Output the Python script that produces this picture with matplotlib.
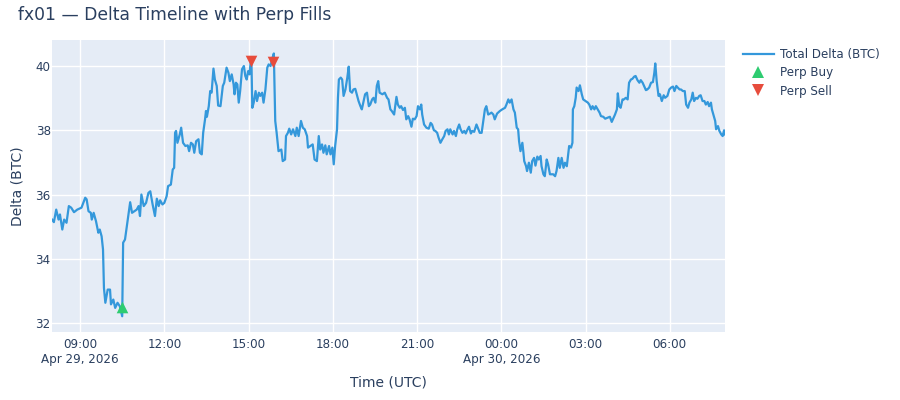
import numpy as np
import pandas as pd
import matplotlib
matplotlib.use("Agg")
import matplotlib.pyplot as plt
from matplotlib.lines import Line2D

plt.rcParams["font.family"] = ["DejaVu Sans"]

START = pd.Timestamp("2026-04-29 08:00")

# minutes after 08:00 UTC on Apr 29, and total delta (BTC)
delta_min = [
    0, 4, 9, 14, 17, 22, 26, 31, 36, 41, 47, 54, 63, 71, 74, 78, 83, 85, 89, 94,
    99, 102, 106, 109, 111, 114, 119, 124, 126, 131, 135, 140, 145, 150, 152, 156,
    159, 163, 167, 171, 176, 181, 185, 188, 191, 196, 201, 206, 210, 215, 220, 224,
    228, 231, 236, 240, 245, 248, 254, 258, 261, 263, 265, 268, 273, 276, 280, 285,
    290, 293, 297, 301, 304, 308, 313, 316, 320, 323, 327, 329, 331, 335, 338, 341,
    345, 348, 352, 355, 360, 365, 368, 373, 377, 380, 384, 388, 390, 393, 396, 399,
    402, 406, 410, 413, 416, 419, 422, 424, 426, 428, 431, 435, 438, 442, 445, 449,
    452, 456, 460, 463, 467, 470, 474, 477, 480, 484, 490, 493, 498, 500, 504, 507,
    511, 515, 520, 523, 527, 532, 536, 540, 545, 547, 552, 557, 561, 566, 570, 573,
    577, 580, 584, 587, 592, 595, 599, 602, 605, 609, 611, 613, 617, 620, 623, 627,
    631, 634, 637, 641, 644, 648, 652, 655, 659, 662, 666, 669, 673, 677, 680, 684,
    687, 691, 694, 697, 700, 706, 711, 716, 719, 723, 726, 731, 736, 739, 743, 746,
    750, 754, 757, 761, 764, 768, 771, 775, 779, 782, 786, 789, 791, 795, 800, 805,
    809, 812, 816, 819, 823, 826, 830, 834, 838, 841, 845, 848, 851, 856, 859, 863,
    866, 870, 873, 877, 881, 884, 888, 891, 895, 898, 902, 907, 911, 914, 918, 921,
    925, 928, 932, 936, 939, 943, 946, 951, 957, 962, 968, 971, 975, 978, 982, 986,
    989, 993, 996, 998, 1001, 1005, 1007, 1009, 1013, 1015, 1019, 1023, 1026, 1030,
    1033, 1037, 1040, 1044, 1046, 1050, 1053, 1057, 1060, 1064, 1068, 1071, 1075,
    1078, 1082, 1085, 1089, 1093, 1096, 1100, 1103, 1105, 1109, 1112, 1113, 1116,
    1119, 1121, 1125, 1128, 1132, 1135, 1140, 1145, 1148, 1152, 1155, 1159, 1162,
    1166, 1170, 1173, 1178, 1182, 1187, 1192, 1196, 1200, 1203, 1207, 1209, 1212,
    1215, 1219, 1222, 1226, 1230, 1233, 1237, 1240, 1244, 1247, 1251, 1255, 1258,
    1262, 1265, 1269, 1272, 1276, 1280, 1284, 1287, 1289, 1292, 1296, 1299, 1303,
    1307, 1310, 1315, 1319, 1323, 1327, 1330, 1334, 1337, 1341, 1344, 1348, 1352,
    1355, 1359, 1362, 1366, 1369, 1372, 1376, 1379, 1383, 1386, 1390, 1394, 1397,
    1401, 1404, 1408, 1410, 1414, 1417, 1419, 1423, 1426, 1430, 1433, 1436, 1438,
]
delta_btc = [
    35.22, 35.14, 35.53, 35.22, 35.38, 34.91, 35.22, 35.12, 35.64, 35.59, 35.45,
    35.53, 35.59, 35.90, 35.85, 35.48, 35.43, 35.22, 35.43, 35.17, 34.81, 34.91,
    34.70, 34.29, 33.09, 32.63, 33.04, 33.04, 32.58, 32.73, 32.47, 32.63, 32.52,
    32.21, 34.50, 34.60, 34.91, 35.33, 35.76, 35.43, 35.48, 35.53, 35.64, 35.33,
    36.00, 35.64, 35.74, 36.05, 36.10, 35.69, 35.33, 35.87, 35.64, 35.82, 35.69,
    35.74, 35.95, 36.26, 36.31, 36.78, 36.83, 37.92, 37.98, 37.61, 37.87, 38.08,
    37.61, 37.51, 37.53, 37.35, 37.61, 37.56, 37.30, 37.66, 37.72, 37.30, 37.25,
    37.92, 38.34, 38.60, 38.42, 38.75, 39.22, 39.17, 39.92, 39.58, 39.38, 38.77,
    38.75, 39.38, 39.48, 39.95, 39.79, 39.53, 39.74, 39.43, 39.12, 39.48, 39.43,
    38.86, 39.22, 39.90, 40.00, 39.69, 39.58, 39.84, 39.74, 40.05, 40.26, 38.70,
    38.86, 39.22, 38.91, 39.17, 39.07, 39.17, 38.86, 39.27, 39.95, 40.05, 40.00,
    40.20, 40.39, 38.29, 37.92, 37.35, 37.40, 37.04, 37.09, 37.82, 37.92, 38.05,
    37.87, 38.03, 37.82, 38.08, 37.82, 38.29, 38.08, 38.03, 37.82, 37.46, 37.51,
    37.56, 37.09, 37.04, 37.82, 37.40, 37.56, 37.30, 37.53, 37.25, 37.51, 37.25,
    37.46, 36.94, 37.51, 38.03, 39.01, 39.58, 39.64, 39.58, 39.07, 39.27, 39.64,
    39.98, 39.22, 39.17, 39.27, 39.29, 39.07, 38.91, 38.75, 38.65, 38.91, 39.12,
    39.17, 38.75, 38.80, 38.96, 39.01, 38.86, 39.38, 39.53, 39.17, 39.12, 39.17,
    39.01, 38.96, 38.65, 38.60, 38.49, 39.04, 38.80, 38.70, 38.75, 38.63, 38.70,
    38.34, 38.44, 38.34, 38.11, 38.36, 38.34, 38.44, 38.75, 38.65, 38.80, 38.49,
    38.18, 38.08, 38.05, 38.23, 38.18, 38.00, 37.98, 37.92, 37.77, 37.61, 37.72,
    37.82, 37.98, 38.03, 37.87, 38.03, 37.87, 37.98, 37.82, 38.03, 38.18, 38.03,
    37.92, 37.98, 37.90, 38.03, 38.11, 37.90, 37.98, 37.95, 38.18, 38.03, 37.92,
    37.92, 38.23, 38.65, 38.75, 38.49, 38.52, 38.55, 38.49, 38.34, 38.52, 38.60,
    38.65, 38.70, 38.80, 38.96, 38.86, 38.96, 38.65, 38.55, 38.08, 38.03, 37.66,
    37.35, 37.61, 37.35, 37.04, 36.88, 36.73, 36.99, 36.68, 37.04, 37.14, 36.90,
    37.18, 37.09, 37.20, 36.88, 36.63, 36.57, 37.09, 36.94, 36.63, 36.63, 36.63,
    36.57, 36.73, 37.14, 36.83, 37.14, 36.83, 36.99, 36.88, 37.25, 37.51, 37.46,
    37.61, 38.65, 38.75, 39.01, 39.33, 39.22, 39.40, 39.12, 38.96, 38.91, 38.86,
    38.80, 38.65, 38.75, 38.65, 38.75, 38.65, 38.55, 38.44, 38.42, 38.36, 38.39,
    38.42, 38.26, 38.39, 38.49, 38.65, 39.15, 38.75, 38.70, 38.96, 38.96, 39.01,
    38.96, 39.48, 39.58, 39.60, 39.67, 39.69, 39.56, 39.48, 39.56, 39.48, 39.38,
    39.25, 39.27, 39.33, 39.48, 39.50, 39.79, 40.08, 39.53, 39.07, 39.12, 38.91,
    39.09, 39.01, 39.07, 39.27, 39.33, 39.36, 39.22, 39.38, 39.33, 39.27, 39.27,
    39.22, 39.22, 38.80, 38.70, 38.86, 38.96, 39.17, 38.91, 39.01, 38.98, 39.07,
    39.09, 38.91, 38.91, 38.80, 38.88, 38.75, 38.86, 38.65, 38.44, 38.29, 38.03,
    38.13, 37.98, 37.87, 37.82, 38.00, 37.87,
]

buy_min = [150]
buy_delta = [32.50]
sell_min = [425, 473]
sell_delta = [40.15, 40.12]

tick_hours = [1, 4, 7, 10, 13, 16, 19, 22]
tick_labels = ["09:00\nApr 29, 2026", "12:00", "15:00", "18:00", "21:00",
               "00:00\nApr 30, 2026", "03:00", "06:00"]

C_LINE = "#3498db"
C_BUY = "#2ecc71"
C_SELL = "#e74c3c"
C_TEXT = "#2a3f5f"
C_BG = "#E5ECF6"

t_line = START + pd.to_timedelta(delta_min, unit="min")
t_buy = START + pd.to_timedelta(buy_min, unit="min")
t_sell = START + pd.to_timedelta(sell_min, unit="min")

fig = plt.figure(figsize=(9, 4), dpi=100)
ax = fig.add_axes([52 / 900, 1 - 332 / 400, 673 / 900, 292 / 400])
ax.set_facecolor(C_BG)
for s in ax.spines.values():
    s.set_visible(False)
ax.grid(True, color="white", lw=1.0)
ax.set_axisbelow(True)

ax.plot(t_line, delta_btc, color=C_LINE, lw=1.6, zorder=2)
ax.scatter(t_buy, buy_delta, marker="^", s=70, color=C_BUY, zorder=3, linewidths=0)
ax.scatter(t_sell, sell_delta, marker="v", s=70, color=C_SELL, zorder=3, linewidths=0)

ax.set_xlim(t_line[0], t_line[-1])
ax.set_ylim(31.72, 40.81)
ax.set_yticks([32, 34, 36, 38, 40])
ax.set_xticks([START + pd.Timedelta(hours=h) for h in tick_hours])
ax.set_xticklabels(tick_labels, ha="center", va="top", multialignment="center")
ax.tick_params(length=0, colors=C_TEXT, labelsize=8.6)
ax.tick_params(axis="x", pad=4)
ax.tick_params(axis="y", pad=1)
for lab in ax.get_xticklabels():
    lab.set_linespacing(1.25)

ax.set_xlabel("Time (UTC)", fontsize=10, color=C_TEXT, labelpad=7)
ax.set_ylabel("Delta (BTC)", fontsize=10, color=C_TEXT, labelpad=8)
fig.text(18 / 900, 1 - 15 / 400, "fx01 — Delta Timeline with Perp Fills",
         fontsize=12.3, color=C_TEXT, va="center", ha="left")

handles = [
    Line2D([], [], color=C_LINE, lw=1.6),
    Line2D([], [], marker="^", ls="none", color=C_BUY, markersize=8, markeredgewidth=0),
    Line2D([], [], marker="v", ls="none", color=C_SELL, markersize=8, markeredgewidth=0),
]
fig.legend(handles, ["Total Delta (BTC)", "Perp Buy", "Perp Sell"],
           loc="upper left", bbox_to_anchor=(738 / 900, 1 - 43 / 400),
           frameon=False, fontsize=8.6, labelcolor=C_TEXT,
           handlelength=2.6, handletextpad=0.5, labelspacing=0.45, borderaxespad=0)

fig.savefig("out.png", dpi=100)
